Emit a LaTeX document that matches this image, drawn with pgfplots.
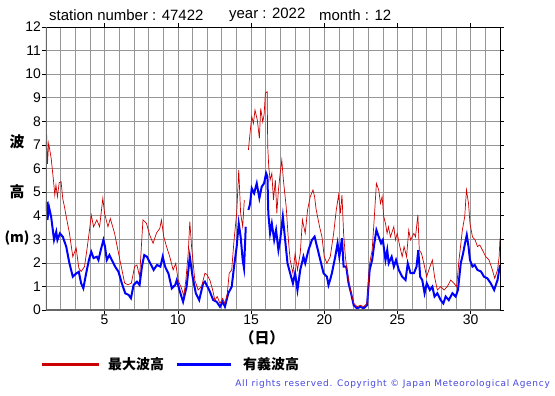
\documentclass[border=0pt]{standalone}
\usepackage{fontspec}
\setmainfont{Liberation Sans}
\newfontfamily\cjk{Noto Sans CJK JP}
\newfontfamily\cpfont[LetterSpace=8]{DejaVu Sans}
\usepackage{pgfplots}
\pgfplotsset{compat=1.18}
\definecolor{wred}{RGB}{204,0,0}
\definecolor{wblue}{RGB}{0,0,255}
\definecolor{cpblue}{RGB}{70,70,220}
\definecolor{gridc}{RGB}{150,150,150}
\begin{document}
\begin{tikzpicture}[x=1bp,y=1bp]
\useasboundingbox (-46,-85) rectangle (509,310);
\begin{axis}[
  at={(0,0)}, anchor=south west,
  scale only axis, width=454bp, height=283bp,
  xmin=1, xmax=32, ymin=0, ymax=12,
  xtick={5,10,...,30}, minor xtick={1,2,...,32},
  ytick={0,1,...,12},
  grid=both,
  major grid style={gridc, line width=0.6bp},
  minor grid style={gridc, line width=0.6bp},
  tick align=outside, major tick length=4bp, minor tick length=0pt,
  tick style={black, line width=0.6bp},
  axis line style={black, line width=0.8bp},
  tick label style={font=\fontsize{14}{14}\selectfont, inner sep=1bp},
  /pgf/number format/assume math mode=true,
  unbounded coords=jump,
  clip=true,
]
\addplot[wblue, line width=2bp] coordinates {
(1.0,4.2)(1.05,4.59)(1.1,3.82)(1.2,4.38)(1.35,3.96)(1.55,2.97)(1.7,3.32)(1.78,2.97)(1.95,3.25)(2.15,3.1)(2.38,2.69)(2.6,1.98)(2.83,1.41)(3.06,1.55)(3.24,1.62)(3.40,1.13)(3.55,0.92)(3.74,1.55)(3.93,2.12)(4.09,2.47)(4.25,2.2)(4.47,2.26)(4.58,2.12)(4.74,2.54)(4.92,2.97)(5.03,2.69)(5.15,2.12)(5.33,2.33)(5.49,2.12)(5.72,1.84)(5.95,1.62)(6.18,1.13)(6.41,0.71)(6.64,0.64)(6.80,0.5)(6.98,1.06)(7.21,1.2)(7.39,1.06)(7.55,1.84)(7.71,2.33)(7.89,2.26)(8.12,1.98)(8.35,1.70)(8.58,1.91)(8.81,1.84)(8.97,2.26)(9.13,1.84)(9.36,1.55)(9.59,0.92)(9.82,1.06)(9.93,1.27)(10.11,0.85)(10.36,0.35)(10.60,0.99)(10.82,2.26)(11.01,1.41)(11.23,0.71)(11.46,0.42)(11.73,1.13)(11.85,1.2)(12.14,0.85)(12.42,0.42)(12.65,0.35)(12.88,0.14)(13.06,0.35)(13.22,0.14)(13.45,0.71)(13.68,0.99)(13.84,1.84)(14.02,2.69)(14.16,3.67)(14.29,3.11)(14.43,2.12)(14.52,1.77)(14.64,3.53)(14.7,nan)
(14.82,4.24)(14.93,4.49)(15.05,5.16)(15.21,4.95)(15.39,5.37)(15.57,4.74)(15.73,5.23)(15.89,5.37)(16.03,5.8)(16.12,5.65)(16.18,4.1)(16.30,3.25)(16.42,3.67)(16.58,2.97)(16.71,3.39)(16.87,2.54)(16.99,2.97)(17.17,3.96)(17.33,2.97)(17.49,1.98)(17.67,1.56)(17.86,1.13)(18.01,1.56)(18.17,0.85)(18.36,1.7)(18.58,2.26)(18.70,1.98)(18.92,2.54)(19.16,2.97)(19.34,3.11)(19.45,2.83)(19.73,2.12)(19.95,1.56)(20.18,1.41)(20.29,1.06)(20.41,1.3)(20.52,1.56)(20.75,2.26)(20.91,2.83)(21.03,2.26)(21.21,3.04)(21.32,1.84)(21.5,1.84)(21.66,1.13)(21.83,0.71)(22.01,0.2)(22.24,0.07)(22.47,0.14)(22.69,0.07)(22.92,0.2)(23.10,1.7)(23.27,2.12)(23.42,2.83)(23.56,3.39)(23.72,3.1)(23.88,2.83)(24.0,2.97)(24.18,2.12)(24.3,2.54)(24.4,1.98)(24.6,2.26)(24.75,1.84)(24.9,2.12)(25.09,1.7)(25.32,1.41)(25.55,1.27)(25.7,1.98)(25.89,1.56)(26.12,1.56)(26.3,1.84)(26.42,2.54)(26.55,1.41)(26.69,1.27)(26.85,0.71)(27.0,1.13)(27.21,0.85)(27.38,0.99)(27.53,0.57)(27.72,0.71)(27.95,0.42)(28.13,0.28)(28.29,0.57)(28.5,0.42)(28.75,0.71)(28.97,0.57)(29.13,0.85)(29.32,1.98)(29.48,2.4)(29.61,2.83)(29.73,3.18)(29.85,2.69)(29.95,2.12)(30.12,1.84)(30.27,1.91)(30.46,1.7)(30.7,1.63)(30.91,1.41)(31.14,1.34)(31.37,1.13)(31.6,0.85)(31.83,1.27)(32.0,1.91)
};
\addplot[wred, line width=0.7bp] coordinates {
(1.0,6.9)(1.05,7.4)(1.1,6.2)(1.18,7.07)(1.35,6.45)(1.51,5.5)(1.6,4.87)(1.68,5.3)(1.78,4.8)(1.9,5.4)(2.03,5.44)(2.15,4.7)(2.26,4.38)(2.38,3.96)(2.6,3.26)(2.83,2.26)(3.06,2.63)(3.24,1.78)(3.40,1.63)(3.63,1.84)(3.79,2.54)(3.97,3.39)(4.09,4.03)(4.25,3.53)(4.47,3.82)(4.66,3.53)(4.88,4.74)(5.0,4.1)(5.23,3.53)(5.39,3.88)(5.68,3.26)(5.91,2.54)(6.14,1.84)(6.37,1.14)(6.6,1.07)(6.83,1.14)(7.05,1.84)(7.21,1.91)(7.39,1.41)(7.62,3.82)(7.86,3.67)(8.08,3.18)(8.31,2.83)(8.54,3.26)(8.77,3.46)(8.88,3.82)(9.04,3.11)(9.23,2.69)(9.45,2.26)(9.68,1.7)(9.86,1.98)(10.02,1.27)(10.25,0.92)(10.41,0.6)(10.55,1.27)(10.71,2.4)(10.82,3.75)(10.94,2.69)(11.16,1.27)(11.39,0.85)(11.62,0.99)(11.85,1.56)(11.99,1.5)(12.19,1.27)(12.38,0.85)(12.53,0.42)(12.69,0.57)(12.88,0.28)(13.06,0.49)(13.22,0.28)(13.38,0.71)(13.51,1.56)(13.68,1.7)(13.84,2.97)(14.02,4.1)(14.16,5.94)(14.29,4.1)(14.43,3.53)(14.54,4.66)(14.7,nan)
(14.82,6.79)(14.93,7.49)(15.05,8.2)(15.16,7.91)(15.27,8.48)(15.43,8.05)(15.57,7.28)(15.66,8.55)(15.80,7.98)(15.89,8.27)(15.98,9.19)(16.10,9.26)(16.14,6.93)(16.21,6.08)(16.30,5.51)(16.42,5.8)(16.53,4.66)(16.66,5.51)(16.76,4.1)(16.87,5.09)(16.99,5.8)(17.10,6.36)(17.21,5.51)(17.40,4.38)(17.55,2.97)(17.67,2.12)(17.86,1.56)(18.01,2.4)(18.17,1.7)(18.36,2.4)(18.51,3.82)(18.70,3.25)(18.86,4.24)(19.04,4.8)(19.23,5.09)(19.34,4.8)(19.45,4.24)(19.68,3.53)(19.84,3.11)(20.0,2.26)(20.18,1.98)(20.41,2.26)(20.64,3.25)(20.82,4.24)(20.98,4.88)(21.10,4.1)(21.21,4.88)(21.32,3.25)(21.44,2.26)(21.55,1.7)(21.78,0.85)(22.01,0.28)(22.24,0.14)(22.47,0.2)(22.69,0.14)(22.92,0.28)(23.10,1.98)(23.27,2.54)(23.42,3.96)(23.56,5.37)(23.72,5.09)(23.84,4.52)(23.95,4.81)(24.06,3.96)(24.18,3.67)(24.29,3.25)(24.38,3.53)(24.52,3.1)(24.75,3.53)(24.86,2.97)(24.98,3.25)(25.16,2.69)(25.32,2.26)(25.45,2.69)(25.62,2.26)(25.77,3.39)(25.89,2.97)(26.12,3.25)(26.23,3.1)(26.39,4.03)(26.49,2.54)(26.64,2.4)(26.80,1.98)(26.99,1.41)(27.14,1.7)(27.38,2.12)(27.53,1.41)(27.72,0.85)(27.95,0.99)(28.18,0.85)(28.40,0.99)(28.63,1.27)(28.86,1.13)(29.04,0.99)(29.20,2.12)(29.43,3.39)(29.59,3.96)(29.71,5.09)(29.85,4.52)(29.95,3.67)(30.12,3.1)(30.3,2.97)(30.46,2.69)(30.62,2.76)(30.80,2.54)(31.03,2.26)(31.25,2.12)(31.48,1.7)(31.64,1.34)(31.83,1.7)(31.94,2.26)(32.0,3.04)
};
\draw[black!60, line width=2bp] (rel axis cs:0,1) -- (rel axis cs:0,0) -- (rel axis cs:1,0);
\end{axis}
% title
\node[anchor=west, font=\fontsize{15}{15}\selectfont, inner sep=0] at (3,295) {station number : 47422};
\node[anchor=west, font=\fontsize{15}{15}\selectfont, inner sep=0] at (183,295) {year : 2022};
\node[anchor=west, font=\fontsize{15}{15}\selectfont, inner sep=0] at (273,295) {month : 12};
% y label
\node[font=\cjk\bfseries\fontsize{15}{15}\selectfont, inner sep=0] at (-29,168) {波};
\node[font=\cjk\bfseries\fontsize{15}{15}\selectfont, inner sep=0] at (-29,118) {高};
\node[font=\cjk\bfseries\fontsize{14}{14}\selectfont, inner sep=0] at (-29,72) {(m)};
% x label
\node[font=\cjk\bfseries\fontsize{15}{15}\selectfont, inner sep=0] at (216,-28) {（日）};
% legend
\draw[wred, line width=3bp] (-4,-54) -- (53,-54);
\node[anchor=west, font=\cjk\bfseries\fontsize{14}{14}\selectfont, inner sep=0] at (62,-54) {最大波高};
\draw[wblue, line width=3bp] (131,-54) -- (185,-54);
\node[anchor=west, font=\cjk\bfseries\fontsize{14}{14}\selectfont, inner sep=0] at (197,-54) {有義波高};
% copyright
\node[anchor=east, font=\cpfont\fontsize{9}{9}\selectfont, text=cpblue, inner sep=0] at (504,-74) {All rights reserved. Copyright \textcopyright\ Japan Meteorological Agency};
\end{tikzpicture}
\end{document}
